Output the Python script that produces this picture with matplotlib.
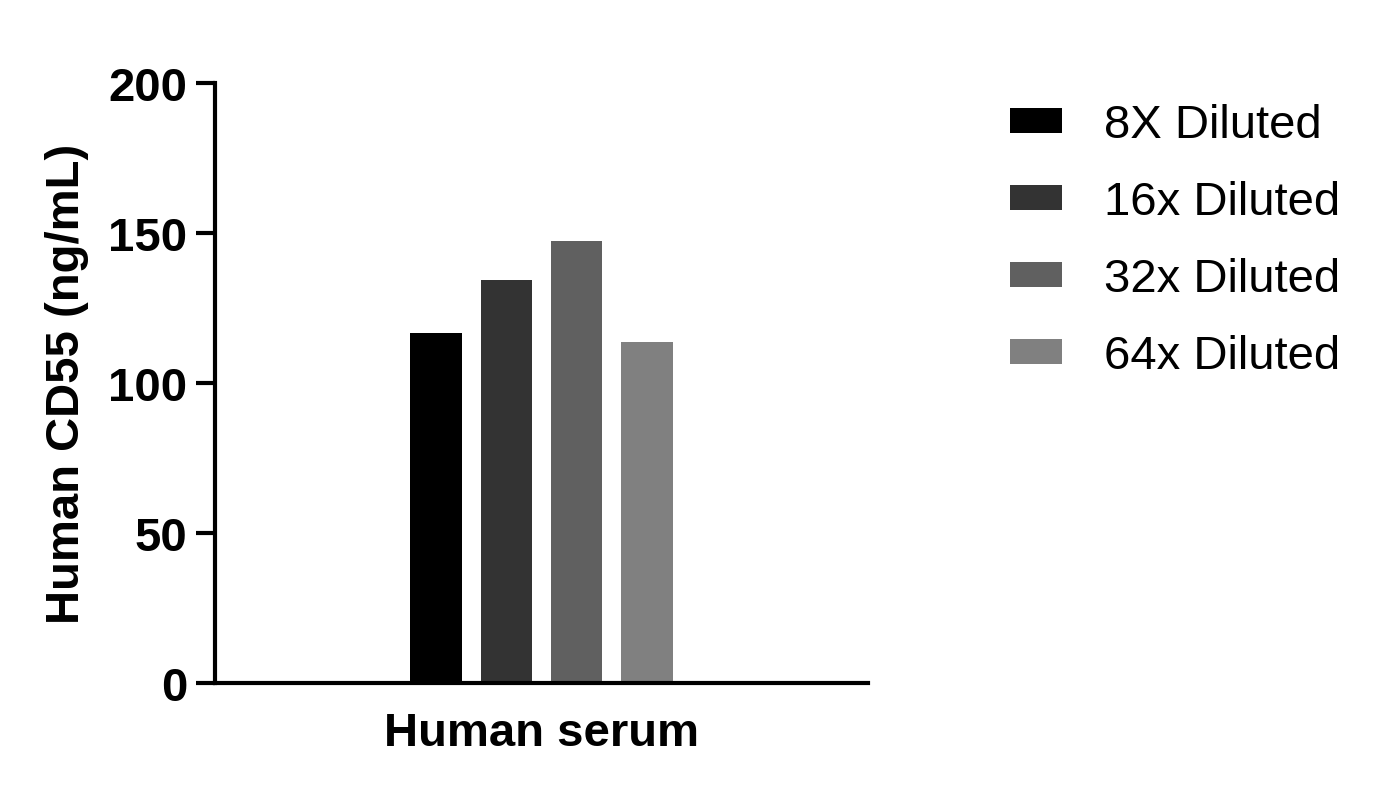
import matplotlib.pyplot as plt
import numpy as np

plt.rcParams['font.family'] = ['Liberation Sans', 'DejaVu Sans']

series = ['8X Diluted', '16x Diluted', '32x Diluted', '64x Diluted']
values = [116.7, 134.3, 147.3, 113.7]
colors = ['#000000', '#333333', '#606060', '#808080']
group = 'Human serum'

fig = plt.figure(figsize=(13.86, 8.04), dpi=100)
ax = fig.add_axes([215 / 1386, 120 / 804, 653 / 1386, 600 / 804])

offsets = np.arange(len(series)) - 1.5
for off, v, c, lab in zip(offsets, values, colors, series):
    ax.bar(off, v, width=0.74, color=c, label=lab)

ax.set_xlim(-4.66, 4.66)
ax.set_ylim(0, 200)
ax.set_yticks([0, 50, 100, 150, 200])
ax.set_xticks([])
ax.set_xlabel(group, fontsize=34, fontweight='bold', labelpad=20)
ax.set_ylabel('Human CD55 (ng/mL)', fontsize=34, fontweight='bold', labelpad=14)
for lbl in ax.get_yticklabels():
    lbl.set_fontweight('bold')
ax.tick_params(axis='y', labelsize=34, width=3, length=14, pad=6)
for s in ['top', 'right']:
    ax.spines[s].set_visible(False)
for s in ['left', 'bottom']:
    ax.spines[s].set_linewidth(3)

fig.legend(loc='upper left', bbox_to_anchor=(1010 / 1386, 700 / 804),
           frameon=False, fontsize=34, handlelength=1.1, handleheight=0.43,
           handletextpad=0.9, labelspacing=0.7, borderpad=0, borderaxespad=0)

fig.savefig('out.png', dpi=100)
